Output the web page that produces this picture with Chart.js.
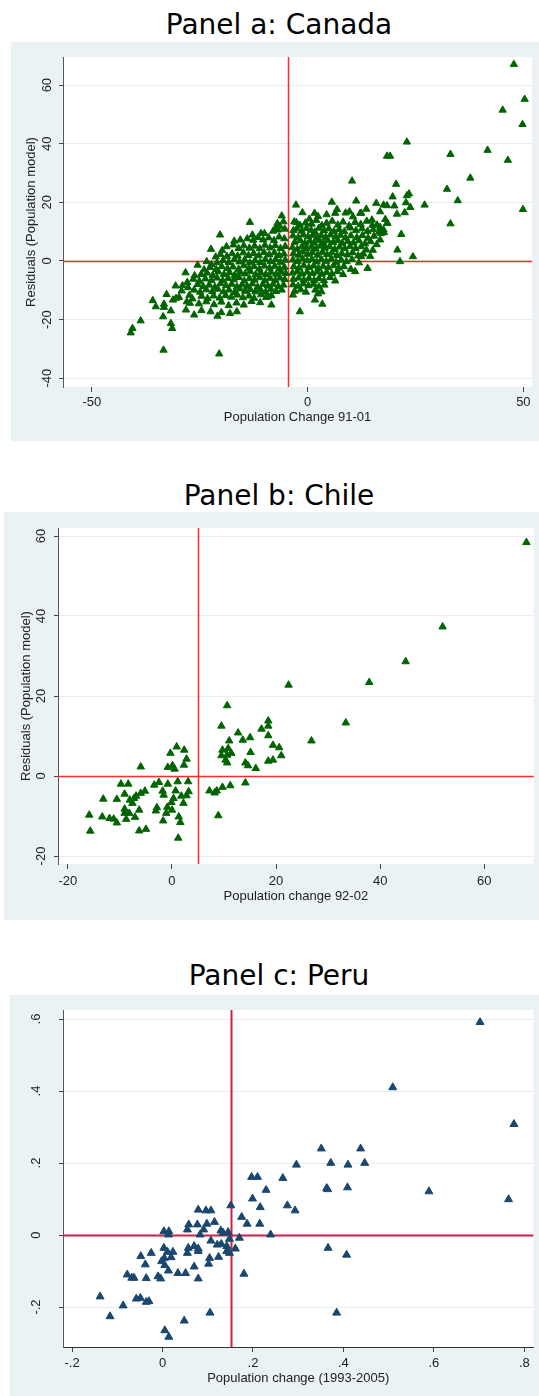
<!DOCTYPE html>
<html>
<head>
<meta charset="utf-8">
<script src="https://cdn.jsdelivr.net/npm/chart.js@4.4.1/dist/chart.umd.min.js"></script>
<style>
  body { margin: 0; background: #ffffff; width: 539px; height: 1396px; position: relative; overflow: hidden; }
  .title { position: absolute; left: 0; width: 558px; text-align: center; font-family: "DejaVu Sans", Verdana, sans-serif; font-size: 28px; line-height: 28px; color: #000; }
  .box { position: absolute; background: #eaf2f3; }
  .box canvas { display: block; }
</style>
</head>
<body>
<div class="title" style="top:11px">Panel a: Canada</div>
<div class="box" style="left:11px;top:42px;width:528px;height:399px"><canvas id="canada" width="528" height="399"></canvas></div>
<div class="title" style="top:482px">Panel b: Chile</div>
<div class="box" style="left:4px;top:512px;width:535px;height:408px"><canvas id="chile" width="535" height="408"></canvas></div>
<div class="title" style="top:962px">Panel c: Peru</div>
<div class="box" style="left:10px;top:995px;width:529px;height:401px"><canvas id="peru" width="529" height="401"></canvas></div>
<script>
// ---- data ----
const canadaXTicks = [-50, 0, 50];
const canadaYTicks = [-40, -20, 0, 20, 40, 60];
const chileXTicks = [-20, 0, 20, 40, 60];
const chileYTicks = [-20, 0, 20, 40, 60];
const peruXTicks = [-0.2, 0, 0.2, 0.4, 0.6, 0.8];
const peruYTicks = [-0.2, 0, 0.2, 0.4, 0.6];

const canadaRefX = -4.5;
const chileRefX = 5;
const peruRefX = 0.152;

const canadaPoints = [
  // sparse upper right
  [47.8,67.1],[50.3,55.2],[45.2,51.5],[49.8,46.6],[23.0,40.6],[18.4,35.8],[19.1,35.8],[33.1,36.4],
  [41.7,37.8],[46.4,34.4],[37.7,28.3],[10.3,27.3],[20.5,26.2],[32.3,24.5],[34.8,20.6],[49.9,17.6],
  [33.1,12.7],[23.5,22.9],[23.0,22.3],[19.7,21.9],[27.1,19.1],[21.7,9.1],[20.8,3.75],[24.4,1.5],
  [21.4,-0.2],[13.9,-2.5],[11.25,20.5],[5.6,20.1],[-2.7,19.1],[15.9,19.7],[17.6,19.1],[18.4,18.9],
  [22.8,19.9],[20.1,18.8],[20.7,16.0],[22.5,16.5],[23.8,18.3],[18.0,14.2],[18.5,12.9],[13.6,17.7],
  [6.8,17.6],[6.4,16.3],[9.7,16.8],[12.2,16.3],[14.9,14.0],[16.8,16.8],[16.1,12.3],[17.7,9.7],[16.8,7.2],
  // right cluster
  [-1.2,16.5],[1.6,16.3],[2.4,15.2],[4.4,15.8],[8.8,16.4],[10.5,15.1],[12.4,16.3],[-2.6,13.1],[0.4,14.3],
  [-3.1,13.4],[-1.8,12.2],[-0.5,13.0],[0.9,12.6],[2.0,13.9],[3.3,12.1],[4.4,12.9],[5.7,13.6],[7.0,12.3],
  [8.2,13.3],[9.6,12.0],[11.0,13.2],[12.3,12.5],[13.7,13.6],[15.0,12.2],[16.8,11.5],[18.4,12.9],
  [-3.3,10.4],[-2.5,11.0],[-1.4,10.2],[-0.3,11.1],[0.8,10.5],[1.7,9.9],[2.6,11.2],[3.8,10.3],[4.9,11.0],
  [6.1,10.1],[7.3,10.8],[8.5,10.0],[9.9,11.3],[11.2,10.4],[12.6,11.0],[13.9,10.1],[15.2,10.7],[16.6,9.9],
  [17.6,10.6],[17.0,9.4],
  [-3.4,8.6],[-2.2,8.0],[-1.0,8.9],[0.1,8.3],[1.2,8.8],[2.2,7.9],[3.1,8.7],[4.2,8.1],[5.3,8.9],[6.5,8.2],
  [7.6,8.8],[8.8,7.9],[10.0,8.6],[11.4,8.0],[12.7,8.7],[14.0,7.8],[15.4,8.5],
  [-3.0,6.4],[-1.7,7.0],[-0.6,6.1],[0.5,6.8],[1.5,6.2],[2.7,7.1],[3.7,6.0],[4.7,6.9],[5.9,6.3],[7.0,7.0],
  [8.0,6.1],[9.3,6.7],[10.6,6.2],[11.9,6.9],[13.3,5.9],[14.6,6.6],[16.0,5.6],
  [-3.5,4.6],[-2.4,4.0],[-1.3,5.0],[-0.2,4.3],[0.9,4.9],[1.9,4.1],[2.9,5.1],[4.0,4.4],[5.1,4.9],[6.3,4.0],
  [7.4,4.8],[8.6,4.2],[9.8,5.0],[11.1,4.3],[12.4,4.9],[13.6,3.8],[15.1,3.7],
  [-3.3,2.5],[-2.1,2.0],[-1.1,3.1],[0.0,2.3],[1.1,2.9],[2.3,2.0],[3.4,3.0],[4.5,2.2],[5.6,2.8],[6.8,1.9],
  [7.9,2.6],[9.2,2.1],[10.4,2.9],[11.7,1.8],[12.9,2.4],[14.5,1.6],
  [-3.4,0.4],[-2.3,-0.2],[-1.2,0.8],[-0.1,0.1],[1.0,0.6],[2.1,-0.3],[3.2,0.5],[4.3,-0.1],[5.5,0.7],
  [6.6,-0.4],[7.8,0.3],[9.0,-0.2],[10.3,0.5],[11.9,-0.6],[12.4,1.5],
  [-3.2,-1.9],[-2.0,-2.4],[-0.9,-1.6],[0.3,-2.2],[1.4,-1.7],[2.5,-2.5],[3.6,-1.8],[4.8,-2.3],[6.0,-1.6],
  [7.2,-2.4],[8.4,-1.9],[10.0,-2.8],[11.0,-3.6],
  [-3.5,-4.1],[-2.4,-3.6],[-1.3,-4.4],[-0.1,-3.8],[1.1,-4.3],[2.2,-3.7],[3.3,-4.5],[4.4,-3.9],[5.6,-4.4],
  [6.9,-3.6],[8.2,-4.6],
  [-3.3,-6.2],[-2.1,-5.8],[-0.9,-6.5],[0.3,-5.9],[1.5,-6.6],[2.6,-6.0],[3.8,-6.7],[5.2,-5.6],[6.4,-6.8],
  [-3.4,-8.1],[-2.2,-8.6],[-1.0,-7.8],[0.2,-8.4],[1.4,-7.9],[2.6,-8.8],[3.9,-8.2],
  [-3.0,-10.3],[-1.6,-9.8],[-0.4,-10.6],[1.8,-9.9],[3.2,-10.5],[2.4,-11.2],
  [-3.4,-11.6],[1.7,-13.3],[3.4,-14.7],[-1.8,-17.3],
  // left cluster
  [-6.0,15.4],[-5.6,13.4],[-13.4,13.2],[-6.4,11.7],[-7.0,12.8],
  [-6.9,10.6],[-8.0,10.2],[-10.0,9.4],[-10.8,9.4],[-12.8,8.9],[-20.3,8.9],[-5.3,10.9],[-7.4,11.2],
  [-5.4,7.6],[-6.6,8.2],[-7.8,7.0],[-9.0,7.9],[-10.3,7.2],[-11.5,8.0],[-12.6,7.1],[-14.0,7.6],[-15.6,7.2],[-17.0,6.8],
  [-5.2,5.0],[-6.3,4.3],[-7.5,5.3],[-8.7,4.5],[-9.9,5.4],[-11.1,4.2],[-12.3,5.1],[-13.5,4.4],[-14.8,5.2],
  [-16.0,4.3],[-17.2,5.5],[-18.8,4.9],[-22.4,4.0],[-19.8,3.6],
  [-5.5,2.4],[-6.6,1.9],[-7.7,2.8],[-8.9,2.1],[-10.1,2.9],[-11.3,1.8],[-12.5,2.6],[-13.7,1.9],[-14.9,2.8],
  [-16.2,1.7],[-17.5,2.5],[-18.7,1.6],[-20.2,2.2],[-21.3,1.4],
  [-5.2,0.3],[-6.3,-0.4],[-7.4,0.6],[-8.6,-0.2],[-9.8,0.5],[-11.0,-0.5],[-12.2,0.2],[-13.4,-0.6],[-14.6,0.4],
  [-15.8,-0.3],[-17.0,0.5],[-18.3,-0.5],[-19.6,0.2],[-21.0,-0.6],[-23.4,-0.2],[-25.5,-1.4],[-22.3,-1.2],
  [-5.4,-2.1],[-6.5,-2.6],[-7.6,-1.8],[-8.8,-2.4],[-10.0,-1.7],[-11.2,-2.7],[-12.4,-1.9],[-13.6,-2.5],
  [-14.8,-1.6],[-16.0,-2.8],[-17.3,-2.0],[-18.6,-2.6],[-19.9,-1.9],[-21.2,-2.9],[-22.6,-2.2],[-24.0,-3.0],
  [-5.1,-4.2],[-6.2,-3.7],[-7.3,-4.5],[-8.5,-3.8],[-9.7,-4.6],[-10.9,-3.9],[-12.1,-4.7],[-13.3,-3.6],
  [-14.5,-4.4],[-15.7,-3.8],[-16.9,-4.8],[-18.1,-3.9],[-19.4,-4.6],[-20.7,-3.7],[-22.0,-4.9],[-23.3,-4.1],
  [-24.7,-4.6],[-26.2,-5.0],[-28.3,-4.0],
  [-5.3,-6.3],[-6.4,-5.8],[-7.5,-6.6],[-8.7,-5.9],[-9.9,-6.7],[-11.1,-5.7],[-12.3,-6.5],[-13.5,-6.0],
  [-14.7,-6.8],[-15.9,-5.6],[-17.1,-6.4],[-18.4,-5.9],[-19.7,-6.7],[-21.0,-5.8],[-22.3,-6.6],[-23.7,-6.1],
  [-25.1,-6.9],[-26.5,-6.2],[-27.9,-7.3],
  [-5.6,-8.2],[-6.8,-8.7],[-8.0,-7.9],[-9.2,-8.5],[-10.4,-8.0],[-11.6,-8.9],[-12.8,-7.8],[-14.0,-8.6],
  [-15.2,-8.1],[-16.4,-8.8],[-17.6,-7.9],[-18.9,-8.4],[-20.2,-7.7],[-21.5,-8.9],[-22.8,-8.2],[-24.2,-8.7],
  [-25.5,-8.0],[-27.7,-9.1],[-29.0,-8.4],[-30.6,-8.5],
  [-6.0,-9.9],[-7.3,-10.4],[-8.5,-9.6],[-9.7,-10.6],[-10.9,-9.8],[-12.1,-10.5],[-13.3,-9.7],[-14.5,-10.3],
  [-15.7,-9.5],[-16.9,-10.7],[-18.2,-9.9],[-19.5,-10.5],[-20.8,-9.6],[-22.1,-10.4],[-23.5,-9.8],[-24.9,-10.6],
  [-26.3,-9.9],[-29.2,-10.2],
  [-8.4,-11.8],[-9.6,-12.4],[-10.8,-11.5],[-12.4,-12.7],[-13.6,-11.9],[-15.0,-12.5],[-16.3,-11.6],
  [-17.7,-12.3],[-19.0,-11.8],[-20.4,-12.6],[-21.8,-11.9],[-23.2,-12.8],[-24.6,-12.0],[-26.7,-12.9],
  [-27.4,-11.7],[-29.8,-12.4],[-30.5,-12.7],[-31.2,-13.3],[-32.7,-11.4],
  [-8.4,-15.0],[-9.2,-12.2],[-11.0,-14.2],[-13.0,-13.8],[-14.8,-15.0],[-16.5,-14.3],[-18.3,-15.2],
  [-20.0,-14.0],[-21.7,-14.9],[-23.5,-13.9],[-25.2,-14.6],[-27.3,-14.4],[-28.0,-13.9],
  [-16.4,-17.3],[-18.0,-17.9],[-20.0,-17.6],[-20.9,-18.8],[-22.5,-17.3],[-26.3,-18.4],[-28.2,-16.7],
  [-24.6,-16.9],
  // far left
  [-33.3,-14.7],[-33.3,-15.8],[-35.9,-13.5],[-35.2,-15.6],[-33.5,-19.0],[-31.7,-17.0],[-31.7,-21.3],
  [-31.4,-23.0],[-38.7,-20.4],[-40.6,-23.0],[-41.0,-24.5],[-33.4,-30.4],[-20.5,-31.7]
];

const chilePoints = [
  [68.1,58.4],[52.0,37.3],[44.9,28.6],[37.9,23.4],[22.4,22.75],[33.4,13.3],[26.8,8.8],[10.6,17.6],
  [9.5,12.5],[12.7,10.8],[13.6,9.0],[15.0,9.6],[17.2,11.75],[18.5,13.8],[18.5,12.5],[18.5,10.1],
  [19.4,7.7],[20.6,7.1],[21.0,5.1],[18.5,3.75],[19.4,4.0],[16.1,1.9],[15.1,5.9],[14.1,3.3],[14.6,2.6],
  [14.1,-1.7],[11.0,8.8],[9.7,6.5],[10.8,6.9],[9.5,5.1],[10.6,5.25],[11.4,5.7],[10.3,4.0],[10.6,3.3],
  [11.2,-2.4],[9.7,-2.8],[7.2,-3.7],[8.2,-4.2],[8.6,-3.7],[8.9,-9.9],
  [2.35,6.5],[0.9,7.3],[2.8,4.25],[2.3,2.75],[-0.3,5.7],[0.1,2.6],[-0.8,2.2],[0.5,1.75],[-6.0,2.3],
  [3.1,-1.4],[1.1,-1.4],[-0.8,-2.0],[-2.5,-1.6],[-3.4,-2.25],[-1.8,-3.75],[-1.6,-4.75],[0.7,-3.7],
  [1.8,-5.0],[2.8,-4.9],[3.2,-3.9],[0.3,-5.6],[-0.1,-6.6],[2.2,-6.8],[-0.9,-7.8],[0.0,-8.5],[-2.9,-7.9],
  [-3.1,-8.7],[-1.1,-9.3],[1.3,-10.2],[1.6,-11.6],[-1.7,-11.2],[1.2,-15.5],
  [-5.2,-3.75],[-6.0,-4.3],[-6.9,-5.0],[-7.3,-5.6],[-8.1,-6.0],[-7.6,-6.8],[-9.8,-2.0],[-8.4,-2.0],
  [-9.1,-4.5],[-6.3,-8.5],[-9.1,-8.25],[-9.1,-9.3],[-8.2,-9.3],[-8.8,-10.8],[-7.1,-10.3],[-10.6,-5.8],
  [-13.2,-5.75],[-15.9,-9.75],[-13.4,-10.2],[-12.0,-10.6],[-11.2,-10.75],[-10.6,-11.7],[-15.7,-13.75],
  [-6.3,-13.7],[-5.0,-13.3]
];

const peruPoints = [
  [0.702,0.591],[0.509,0.410],[0.777,0.308],[0.351,0.240],[0.438,0.240],[0.296,0.195],[0.372,0.200],
  [0.410,0.195],[0.447,0.200],[0.197,0.161],[0.210,0.161],[0.266,0.158],[0.229,0.125],[0.363,0.130],
  [0.365,0.127],[0.409,0.132],[0.589,0.121],[0.765,0.099],[0.199,0.101],[0.216,0.077],[0.276,0.082],
  [0.293,0.068],[0.151,0.082],[0.175,0.050],[0.187,0.031],[0.215,0.031],[0.239,0.001],[0.170,-0.008],
  [0.079,0.070],[0.096,0.068],[0.107,0.068],[0.077,0.029],[0.098,0.031],[0.115,0.036],[0.058,0.029],
  [0.055,0.015],[0.091,0.015],[0.083,0.001],[0.129,0.012],[0.145,0.008],[0.134,0.006],[0.148,-0.011],
  [0.107,-0.016],[0.121,-0.027],[0.130,-0.025],[0.142,-0.031],[0.161,-0.038],[0.148,-0.050],
  [0.142,-0.045],[0.079,-0.038],[0.070,-0.031],[0.057,-0.036],[0.055,-0.050],[0.079,-0.045],
  [0.104,-0.064],[0.124,-0.061],[0.102,-0.080],[0.070,-0.088],[0.079,-0.121],[0.051,-0.106],
  [0.034,-0.106],[0.180,-0.108],[0.003,0.010],[0.014,0.010],[0.013,0.001],[0.003,-0.036],[0.011,-0.047],
  [0.023,-0.047],[0.019,-0.062],[-0.025,-0.050],[-0.048,-0.059],[0.004,-0.064],[-0.002,-0.073],
  [-0.038,-0.082],[0.005,-0.084],[0.013,-0.099],[-0.010,-0.115],[-0.004,-0.121],[-0.036,-0.120],
  [-0.078,-0.110],[-0.068,-0.119],[-0.063,-0.119],[-0.058,-0.177],[-0.049,-0.175],[-0.036,-0.186],
  [-0.030,-0.184],[-0.138,-0.171],[-0.087,-0.196],[-0.116,-0.226],[0.105,-0.216],[0.048,-0.238],
  [0.005,-0.265],[0.014,-0.283],[0.366,-0.036],[0.407,-0.055],[0.385,-0.216]
];

// ---- helpers ----
function stataLabel(v) {
  return v === 0 ? '0' : String(v).replace('0.', '.');
}

const axisFont = { family: '"Liberation Sans", Arial, sans-serif', size: 13 };
const textColor = '#222222';

const whitePlot = {
  id: 'whitePlot',
  beforeDraw(chart) {
    const { ctx, chartArea } = chart;
    ctx.save();
    ctx.fillStyle = '#ffffff';
    ctx.fillRect(chartArea.left, chartArea.top, chartArea.right - chartArea.left, chartArea.bottom - chartArea.top);
    ctx.restore();
  }
};

// red reference lines at the mean
const refLines = {
  id: 'refLines',
  beforeDatasetsDraw(chart, args, opts) {
    const { ctx, chartArea, scales } = chart;
    const px = Math.round(scales.x.getPixelForValue(opts.x)) + 0.5;
    const py = Math.round(scales.y.getPixelForValue(0)) + 0.5;
    ctx.save();
    ctx.strokeStyle = opts.color;
    ctx.lineWidth = opts.width;
    ctx.beginPath();
    ctx.moveTo(px, chartArea.top);
    ctx.lineTo(px, chartArea.bottom);
    ctx.moveTo(chartArea.left, py);
    ctx.lineTo(chartArea.right, py);
    ctx.stroke();
    ctx.restore();
  }
};

// stata draws the y tick labels turned on their side
const sideLabels = {
  id: 'sideLabels',
  afterDraw(chart, args, opts) {
    const { ctx, scales } = chart;
    ctx.save();
    ctx.font = axisFont.size + 'px ' + axisFont.family;
    ctx.fillStyle = textColor;
    ctx.textAlign = 'center';
    ctx.textBaseline = 'middle';
    scales.y.ticks.forEach(t => {
      const y = scales.y.getPixelForValue(t.value);
      ctx.save();
      ctx.translate(opts.x, y);
      ctx.rotate(-Math.PI / 2);
      ctx.fillText(stataLabel(t.value), 0, 0);
      ctx.restore();
    });
    ctx.restore();
  }
};

function panel(id, p) {
  const ctx = document.getElementById(id).getContext('2d');
  new Chart(ctx, {
    type: 'scatter',
    data: {
      datasets: [{
        data: p.points.map(d => ({ x: d[0], y: d[1] })),
        pointStyle: 'triangle',
        pointRadius: p.radius,
        pointBorderWidth: 1,
        backgroundColor: p.color,
        borderColor: p.color
      }]
    },
    options: {
      responsive: false,
      animation: false,
      devicePixelRatio: 1,
      layout: { padding: { left: 0, right: p.padRight, top: p.padTop, bottom: 0 } },
      plugins: {
        legend: { display: false },
        tooltip: { enabled: false },
        refLines: { x: p.refX, color: p.lineColor, width: p.lineWidth },
        sideLabels: { x: p.labelX }
      },
      scales: {
        x: {
          type: 'linear',
          min: p.xMin,
          max: p.xMax,
          afterBuildTicks: s => { s.ticks = p.xTicks.map(v => ({ value: v })); },
          afterFit: s => { s.height = p.xHeight; },
          ticks: { color: textColor, font: axisFont, padding: p.tickPad, maxRotation: 0, callback: v => stataLabel(v) },
          grid: { drawOnChartArea: false, drawTicks: true, tickLength: 5, tickColor: '#444444' },
          border: { display: p.xBorder, color: '#333333', width: 1 },
          title: { display: true, text: p.xTitle, color: textColor, font: axisFont, padding: { top: 0, bottom: p.xTitlePad } }
        },
        y: {
          type: 'linear',
          min: p.yMin,
          max: p.yMax,
          afterBuildTicks: s => { s.ticks = p.yTicks.map(v => ({ value: v })); },
          afterFit: s => { s.width = p.yWidth; },
          ticks: { display: false },
          grid: { color: '#e6eef0', lineWidth: 1, drawTicks: true, tickLength: 4, tickColor: '#444444' },
          border: { display: true, color: '#555555', width: 1 },
          title: { display: !!p.yTitle, text: p.yTitle || '', color: textColor, font: axisFont, padding: { top: p.yTitlePad, bottom: 0 } }
        }
      }
    },
    plugins: [whitePlot, refLines, sideLabels]
  });
}

panel('canada', {
  points: canadaPoints, color: '#006400', radius: 4.2,
  xTicks: canadaXTicks, yTicks: canadaYTicks,
  xMin: -56.7, xMax: 52.0, yMin: -43.0, yMax: 69.6,
  refX: canadaRefX, lineColor: '#ff2a2a', lineWidth: 1.5,
  xTitle: 'Population Change 91-01', yTitle: 'Residuals (Population model)',
  padRight: 7, padTop: 15, xHeight: 54, yWidth: 52, tickPad: 3, xTitlePad: 16, yTitlePad: 13, labelX: 36,
  xBorder: false
});

panel('chile', {
  points: chilePoints, color: '#006400', radius: 4.3,
  xTicks: chileXTicks, yTicks: chileYTicks,
  xMin: -21.9, xMax: 69.5, yMin: -22, yMax: 62,
  refX: chileRefX, lineColor: '#ff2a2a', lineWidth: 1.5,
  xTitle: 'Population change 92-02', yTitle: 'Residuals (Population model)',
  padRight: 0, padTop: 16, xHeight: 56, yWidth: 54, tickPad: 5, xTitlePad: 16, yTitlePad: 15, labelX: 37,
  xBorder: false
});

panel('peru', {
  points: peruPoints, color: '#1a476f', radius: 4.6,
  xTicks: peruXTicks, yTicks: peruYTicks,
  xMin: -0.22, xMax: 0.82, yMin: -0.311, yMax: 0.625,
  refX: peruRefX, lineColor: '#cf1f45', lineWidth: 2,
  xTitle: 'Population change (1993-2005)', yTitle: '',
  padRight: 4, padTop: 15, xHeight: 49, yWidth: 53, tickPad: 4, xTitlePad: 10, yTitlePad: 0, labelX: 26,
  xBorder: true
});
</script>
</body>
</html>
